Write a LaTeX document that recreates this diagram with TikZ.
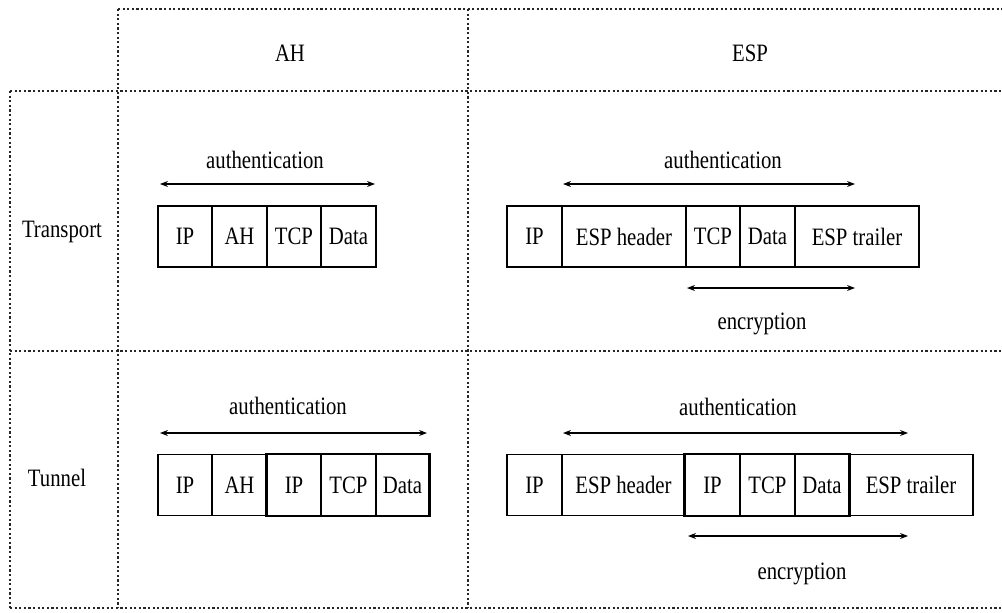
\documentclass[tikz,border=0pt]{standalone}
\usepackage{fontspec}
\setmainfont{Liberation Serif}[FakeStretch=0.83]
\usetikzlibrary{arrows.meta}
\begin{document}
\begin{tikzpicture}[x=1pt,y=-1pt,
  grid/.style={line width=1.4pt, dash pattern=on 2.2pt off 2.4pt, black!85},
  cell/.style={draw, line width=1.1pt, minimum height=61pt, inner sep=0pt, anchor=center},
  thickbox/.style={draw, line width=2.4pt},
  dim/.style={line width=1.1pt, {Stealth[length=8pt,width=6pt]}-{Stealth[length=8pt,width=6pt]}},
  lbl/.style={inner sep=0pt},
  font=\fontsize{25}{29}\selectfont]
\useasboundingbox (0,0) rectangle (1002,613);
% grid
\draw[grid] (118,9) -- (1002,9);
\draw[grid] (10,91) -- (1002,91);
\draw[grid] (10,351) -- (1002,351);
\draw[grid] (10,608) -- (1002,608);
\draw[grid] (10,91) -- (10,608);
\draw[grid] (118,9) -- (118,608);
\draw[grid] (468,9) -- (468,608);
% headers
\node[lbl] (hah) at (290,53) {AH};
\node[lbl] (hesp) at (750,53) {ESP};
\node[lbl] (htr) at (62,232) {Transport};
\node[lbl] (htu) at (57,478) {Tunnel};
% transport AH
\node[cell, minimum width=54pt] (a1) at (185,236.5) {IP};
\node[cell, minimum width=55pt] (a2) at (239.5,236.5) {AH};
\node[cell, minimum width=54pt] (a3) at (294,236.5) {TCP};
\node[cell, minimum width=55pt] (a4) at (348.5,236.5) {Data};
\coordinate (aal) at (160,184);
\coordinate (aar) at (375,184);
\draw[dim] (aal) -- (aar);
\node[lbl] (aat) at (265,160) {authentication};
% transport ESP
\node[cell, minimum width=55pt] (b1) at (534.5,236.5) {IP};
\node[cell, minimum width=124pt] (b2) at (624,236.5) {ESP header};
\node[cell, minimum width=54pt] (b3) at (713,236.5) {TCP};
\node[cell, minimum width=55pt] (b4) at (767.5,236.5) {Data};
\node[cell, minimum width=124pt] (b5) at (857,236.5) {ESP trailer};
\coordinate (bal) at (563,184);
\coordinate (bar) at (855,184);
\draw[dim] (bal) -- (bar);
\node[lbl] (bat) at (723,160) {authentication};
\coordinate (bel) at (687,288);
\coordinate (ber) at (855,288);
\draw[dim] (bel) -- (ber);
\node[lbl] (bet) at (762,324) {encryption};
% tunnel AH
\node[cell, minimum width=54pt] (c1) at (185,485) {IP};
\node[cell, minimum width=55pt] (c2) at (239.5,485) {AH};
\node[cell, minimum width=54pt] (c3) at (294,485) {IP};
\node[cell, minimum width=55pt] (c4) at (348.5,485) {TCP};
\node[cell, minimum width=53pt] (c5) at (402.5,485) {Data};
\draw[thickbox] (c3.north west) rectangle (c5.south east);
\coordinate (cal) at (160,433);
\coordinate (car) at (427,433);
\draw[dim] (cal) -- (car);
\node[lbl] (cat) at (288,406) {authentication};
% tunnel ESP
\node[cell, minimum width=55pt] (d1) at (534.5,485) {IP};
\node[cell, minimum width=123pt] (d2) at (623.5,485) {ESP header};
\node[cell, minimum width=55pt] (d3) at (712.5,485) {IP};
\node[cell, minimum width=55pt] (d4) at (767.5,485) {TCP};
\node[cell, minimum width=54pt] (d5) at (822,485) {Data};
\node[cell, minimum width=124pt] (d6) at (911,485) {ESP trailer};
\draw[thickbox] (d3.north west) rectangle (d5.south east);
\coordinate (dal) at (563,433);
\coordinate (dar) at (908,433);
\draw[dim] (dal) -- (dar);
\node[lbl] (dat) at (738,407) {authentication};
\coordinate (del) at (688,536);
\coordinate (der) at (908,536);
\draw[dim] (del) -- (der);
\node[lbl] (det) at (802,574) {encryption};
\end{tikzpicture}
\end{document}
